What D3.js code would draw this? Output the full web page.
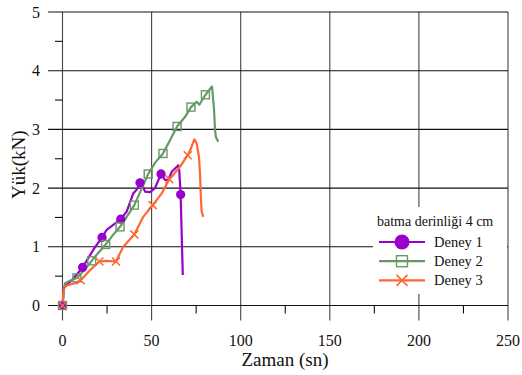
<!DOCTYPE html>
<html>
<head>
<meta charset="utf-8">
<script src="https://cdn.jsdelivr.net/npm/d3@7"></script>
<style>
  html, body { margin: 0; padding: 0; background: #fff; }
  svg { display: block; }
</style>
</head>
<body>
<svg id="chart" width="522" height="375"></svg>
<script>
// Load (kN) versus time (s) for three penetration tests, 4 cm depth
const seriesNames = ["Deney 1", "Deney 2", "Deney 3"];
const seriesColors = ["#9900CC", "#669966", "#FF6633"];
const seriesMarkers = ["circle", "square", "cross"];

const deney1 = [
  [0, 0], [0.8, 0.30], [6.1, 0.46], [11.3, 0.65], [17.3, 0.95], [22.2, 1.16],
  [24.8, 1.29], [32.7, 1.47], [36.0, 1.60], [39.7, 1.91], [41.6, 1.97],
  [43.5, 2.09], [45.3, 2.02], [46.3, 1.94], [49.1, 1.93], [51.9, 2.00],
  [55.3, 2.24], [57.5, 2.14], [59.4, 2.14], [61.3, 2.28], [65.0, 2.39],
  [65.5, 2.31], [66.3, 1.89], [67.5, 0.52]
];
const deney1Marks = [[0, 0], [11.3, 0.65], [22.2, 1.16], [32.7, 1.47], [43.5, 2.09], [55.3, 2.24], [66.3, 1.89]];

const deney2 = [
  [0, 0], [0.8, 0.26], [1.4, 0.38], [4.2, 0.42], [8.1, 0.47], [12.1, 0.60],
  [16.4, 0.76], [19.9, 0.89], [24.2, 1.04], [28.3, 1.20], [32.3, 1.34],
  [36.2, 1.52], [40.3, 1.71], [44.1, 1.97], [48.1, 2.24], [51.9, 2.43],
  [56.4, 2.59], [60.4, 2.82], [64.3, 3.05], [68.7, 3.21], [72.1, 3.38],
  [75.3, 3.47], [76.8, 3.42], [80.2, 3.59], [83.9, 3.73], [85.0, 3.36],
  [85.6, 2.99], [86.1, 2.87], [87.4, 2.79]
];
const deney2Marks = [[0, 0], [8.1, 0.47], [16.4, 0.76], [24.2, 1.04], [32.3, 1.34], [40.3, 1.71], [48.1, 2.24], [56.4, 2.59], [64.3, 3.05], [72.1, 3.38], [80.2, 3.59]];

const deney3 = [
  [0, 0], [0.8, 0.32], [3.3, 0.35], [7.0, 0.38], [10.2, 0.43], [15.4, 0.60],
  [20.7, 0.75], [24.8, 0.76], [30.0, 0.75], [34.1, 1.00], [40.3, 1.21],
  [45.3, 1.51], [50.6, 1.71], [55.7, 1.91], [59.9, 2.15], [65.9, 2.36],
  [70.3, 2.56], [72.1, 2.68], [74.0, 2.83], [75.3, 2.76], [76.6, 2.53],
  [77.2, 2.22], [77.7, 1.80], [78.1, 1.60], [79.0, 1.51]
];
const deney3Marks = [[0, 0], [10.2, 0.43], [20.7, 0.75], [30.0, 0.75], [40.3, 1.21], [50.6, 1.71], [59.9, 2.15], [70.3, 2.56]];

const xTicks = [0, 50, 100, 150, 200, 250];
const xMinorTicks = [25, 75, 125, 175, 225];
const yTicks = [0, 1, 2, 3, 4, 5];
const yMinorTicks = [0.5, 1.5, 2.5, 3.5, 4.5];
const xTitle = "Zaman (sn)";
const yTitle = "Yük(kN)";
const legendTitle = "batma derinliği 4 cm";

const series = [deney1, deney2, deney3];
const marks = [deney1Marks, deney2Marks, deney3Marks];

const FONT = "Liberation Serif";
const svg = d3.select("#chart");
svg.append("rect").attr("width", 522).attr("height", 375).attr("fill", "#fff");

const x = d3.scaleLinear().domain([0, 250]).range([62.5, 508]);
const y = d3.scaleLinear().domain([0, 5]).range([305.5, 12]);

const grid = svg.append("g");
// vertical gridlines, extended below the axis as major ticks
grid.selectAll("line.vx").data(xTicks).join("line")
  .attr("x1", d => x(d)).attr("x2", d => x(d))
  .attr("y1", y(5)).attr("y2", y(0) + 15)
  .attr("stroke", "#444").attr("stroke-width", 1.1);
// horizontal gridlines, extended left of the axis as major ticks
grid.selectAll("line.hy").data(yTicks).join("line")
  .attr("x1", x(0) - 14.5).attr("x2", x(250))
  .attr("y1", d => y(d)).attr("y2", d => y(d))
  .attr("stroke", "#111").attr("stroke-width", 1.1);
// minor ticks
grid.selectAll("line.mx").data(xMinorTicks).join("line")
  .attr("x1", d => x(d)).attr("x2", d => x(d))
  .attr("y1", y(0)).attr("y2", y(0) + 8)
  .attr("stroke", "#111").attr("stroke-width", 1.1);
grid.selectAll("line.my").data(yMinorTicks).join("line")
  .attr("x1", x(0) - 7.5).attr("x2", x(0))
  .attr("y1", d => y(d)).attr("y2", d => y(d))
  .attr("stroke", "#111").attr("stroke-width", 1.1);

// tick labels
svg.append("g").selectAll("text").data(xTicks).join("text")
  .attr("font-family", FONT)
  .attr("x", d => x(d)).attr("y", 346)
  .attr("text-anchor", "middle").attr("font-size", 16).attr("fill", "#111")
  .text(d => d);
svg.append("g").selectAll("text").data(yTicks).join("text")
  .attr("font-family", FONT)
  .attr("x", 40).attr("y", d => y(d) + 5.5)
  .attr("text-anchor", "end").attr("font-size", 16).attr("fill", "#111")
  .text(d => d);

// axis titles
svg.append("text").attr("x", 285).attr("y", 366).attr("font-family", FONT)
  .attr("text-anchor", "middle").attr("font-size", 19).attr("fill", "#111")
  .text(xTitle);
svg.append("text").attr("font-family", FONT)
  .attr("transform", `translate(25,${y(2.5) + 6}) rotate(-90)`)
  .attr("text-anchor", "middle").attr("font-size", 19).attr("fill", "#111")
  .text(yTitle);

const line = d3.line().x(d => x(d[0])).y(d => y(d[1]));

function drawMarker(g, type, cx, cy, color, size) {
  if (type === "circle") {
    g.append("circle").attr("cx", cx).attr("cy", cy).attr("r", size * 0.58)
      .attr("fill", color);
  } else if (type === "square") {
    const s = size * 0.5;
    g.append("rect").attr("x", cx - s).attr("y", cy - s)
      .attr("width", 2 * s).attr("height", 2 * s)
      .attr("fill", "none").attr("stroke", color).attr("stroke-width", 1.4);
  } else {
    const s = size * 0.5;
    g.append("path")
      .attr("d", `M${cx - s},${cy - s}L${cx + s},${cy + s}M${cx - s},${cy + s}L${cx + s},${cy - s}`)
      .attr("stroke", color).attr("stroke-width", 1.6).attr("fill", "none");
  }
}

const plot = svg.append("g");
series.forEach((data, i) => {
  plot.append("path").datum(data)
    .attr("d", line)
    .attr("fill", "none").attr("stroke", seriesColors[i])
    .attr("stroke-width", 2.2).attr("stroke-linejoin", "round");
});
series.forEach((data, i) => {
  const g = plot.append("g");
  marks[i].forEach(p => drawMarker(g, seriesMarkers[i], x(p[0]), y(p[1]), seriesColors[i], 8));
});

// legend
const lg = svg.append("g");
lg.append("rect").attr("x", 373).attr("y", 207).attr("width", 134).attr("height", 87)
  .attr("fill", "#fff");
lg.append("text").attr("x", 377).attr("y", 226).attr("font-family", FONT)
  .attr("font-size", 14).attr("fill", "#111")
  .text(legendTitle);
seriesNames.forEach((name, i) => {
  const ry = 242 + i * 19.2;
  lg.append("line").attr("x1", 379).attr("x2", 425).attr("y1", ry).attr("y2", ry)
    .attr("stroke", seriesColors[i]).attr("stroke-width", 2.2);
  drawMarker(lg, seriesMarkers[i], 402, ry, seriesColors[i], i === 0 ? 13 : 11);
  lg.append("text").attr("x", 434).attr("y", ry + 5).attr("font-family", FONT)
    .attr("font-size", 14.5).attr("fill", "#111")
    .text(name);
});
</script>
</body>
</html>
